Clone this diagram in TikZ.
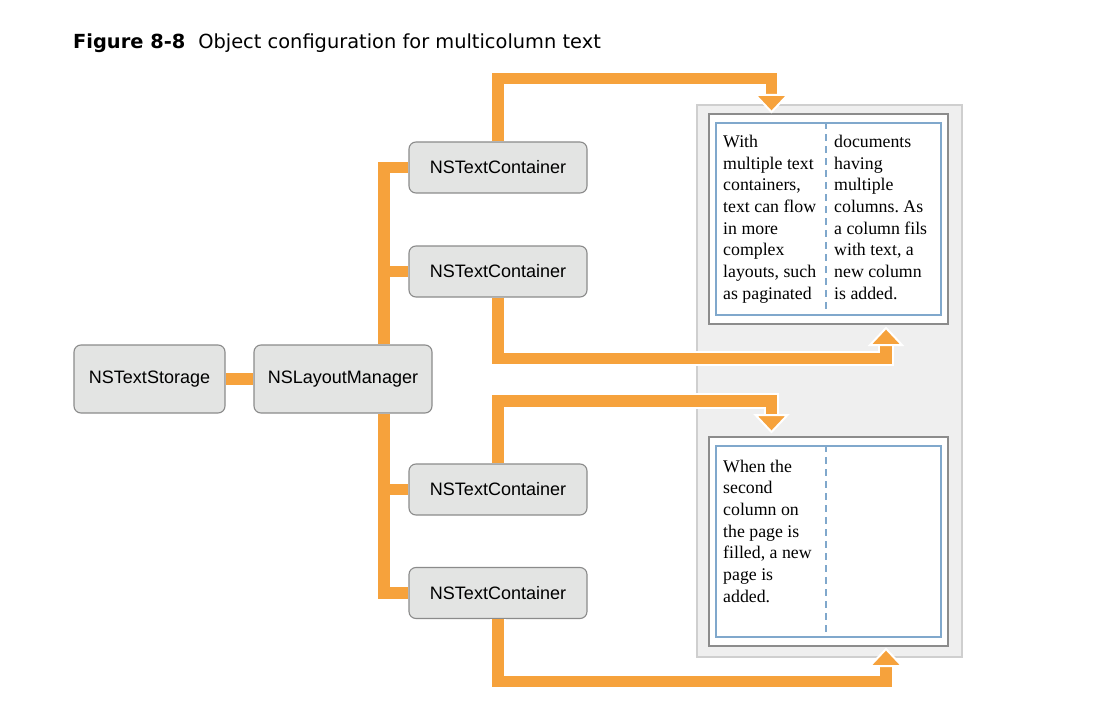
\documentclass[tikz,border=0pt]{standalone}
\usepackage{fontspec}
\setmainfont{Liberation Sans}
\newfontfamily\titlefont{DejaVu Sans}
\newfontfamily\pagefont{Liberation Serif}
\definecolor{org}{HTML}{F6A23C}
\definecolor{nodefill}{HTML}{E3E4E3}
\definecolor{nodeline}{HTML}{8B8B8B}
\definecolor{panelfill}{HTML}{EFEFEF}
\definecolor{panelline}{HTML}{CFCFCF}
\definecolor{pageline}{HTML}{8C8C8C}
\definecolor{colline}{HTML}{80A8CC}
\pgfdeclarelayer{background}
\pgfsetlayers{background,main}
\frenchspacing
\begin{document}
\begin{tikzpicture}[x=1pt,y=-1pt,
  obj/.style={draw=nodeline, fill=nodefill, rounded corners=7pt, line width=1.1pt,
    inner sep=0pt, font=\fontsize{18}{21}\selectfont},
  conn/.style={draw=org, line width=11.5pt, line join=miter},
  haloconn/.style={draw=org, line width=11.5pt, line join=miter,
    preaction={draw=white, line width=15.5pt, line join=miter}},
  tip/.style={fill=org, draw=white, line width=2pt, line join=miter},
  pagetext/.style={inner sep=0pt, align=left, anchor=north west,
    font=\pagefont\fontsize{17.8}{21.7}\selectfont}
]
\useasboundingbox (0,0) rectangle (1101,706);

% title
\node[inner sep=0pt, anchor=base west, font=\titlefont\fontsize{19.4}{22}\selectfont] (title) at (73,49)
  {{\bfseries Figure 8-8}\hspace{13pt}Object configuration for multicolumn text};

% objects
\node[obj, minimum width=151pt, minimum height=68pt] (storage) at (149.5,379) {NSTextStorage};
\node[obj, minimum width=178pt, minimum height=68pt] (lm) at (343,379) {NSLayoutManager};
\node[obj, minimum width=178pt, minimum height=51pt] (c1) at (498,167.5) {NSTextContainer};
\node[obj, minimum width=178pt, minimum height=51pt] (c2) at (498,271.5) {NSTextContainer};
\node[obj, minimum width=178pt, minimum height=51pt] (c3) at (498,489.5) {NSTextContainer};
\node[obj, minimum width=178pt, minimum height=51pt] (c4) at (498,593) {NSTextContainer};

% pages
\begin{pgfonlayer}{background}
\draw[fill=panelfill, draw=panelline, line width=2pt] (697,105) rectangle (962,657);
\end{pgfonlayer}
\node[draw=pageline, fill=white, line width=1.5pt, minimum width=239pt, minimum height=210pt, inner sep=0pt] (page1) at (828.5,219) {};
\node[draw=colline, line width=1.5pt, minimum width=225pt, minimum height=192pt, inner sep=0pt] (frame1) at (828.5,219) {};
\draw[colline, line width=1.2pt, dash pattern=on 7pt off 5pt] (frame1.north -| 826,0) -- (frame1.south -| 826,0);
\node[draw=pageline, fill=white, line width=1.5pt, minimum width=239pt, minimum height=209pt, inner sep=0pt] (page2) at (828.5,541.5) {};
\node[draw=colline, line width=1.5pt, minimum width=225pt, minimum height=191pt, inner sep=0pt] (frame2) at (828.5,541.5) {};
\draw[colline, line width=1.2pt, dash pattern=on 7pt off 5pt] (frame2.north -| 826,0) -- (frame2.south -| 826,0);

\node[pagetext] (t1) at (723,134.8) {With\\multiple text\\containers,\\text can flow\\in more\\complex\\layouts, such\\as paginated};
\node[pagetext] (t2) at (834,134.8) {documents\\having\\multiple\\columns. As\\a column fils\\with text, a\\new column\\is added.};
\node[pagetext] (t3) at (723,459.6) {When the\\second\\column on\\the page is\\filled, a new\\page is\\added.};

% connectors
\begin{pgfonlayer}{background}
\coordinate (tx) at (384,0);
\draw[conn] (storage.east) -- (lm.west);
\draw[conn] (lm.north -| tx) -- (tx |- c1.west) -- (c1.west);
\draw[conn] (tx |- c2.west) -- (c2.west);
\draw[conn] (lm.south -| tx) -- (tx |- c4.west) -- (c4.west);
\draw[conn] (tx |- c3.west) -- (c3.west);
\end{pgfonlayer}

\coordinate (a1) at (771.5,95);
\coordinate (a2) at (886,345);
\coordinate (a3) at (771.5,415);
\coordinate (a4) at (886,666);
\draw[haloconn] (c1.north) -- (c1.north |- 0,78.5) -| (a1);
\draw[haloconn] (c2.south) -- (c2.south |- 0,358.5) -| (a2);
\draw[haloconn] (c3.north) -- (c3.north |- 0,401) -| (a3);
\draw[haloconn] (c4.south) -- (c4.south |- 0,681.5) -| (a4);
\draw[tip] ([xshift=-16pt]a1) -- ([xshift=16pt]a1) -- ([yshift=-17pt]a1) -- cycle;
\draw[tip] ([xshift=-16pt]a2) -- ([xshift=16pt]a2) -- ([yshift=17pt]a2) -- cycle;
\draw[tip] ([xshift=-16pt]a3) -- ([xshift=16pt]a3) -- ([yshift=-17pt]a3) -- cycle;
\draw[tip] ([xshift=-16pt]a4) -- ([xshift=16pt]a4) -- ([yshift=17pt]a4) -- cycle;
\end{tikzpicture}
\end{document}
